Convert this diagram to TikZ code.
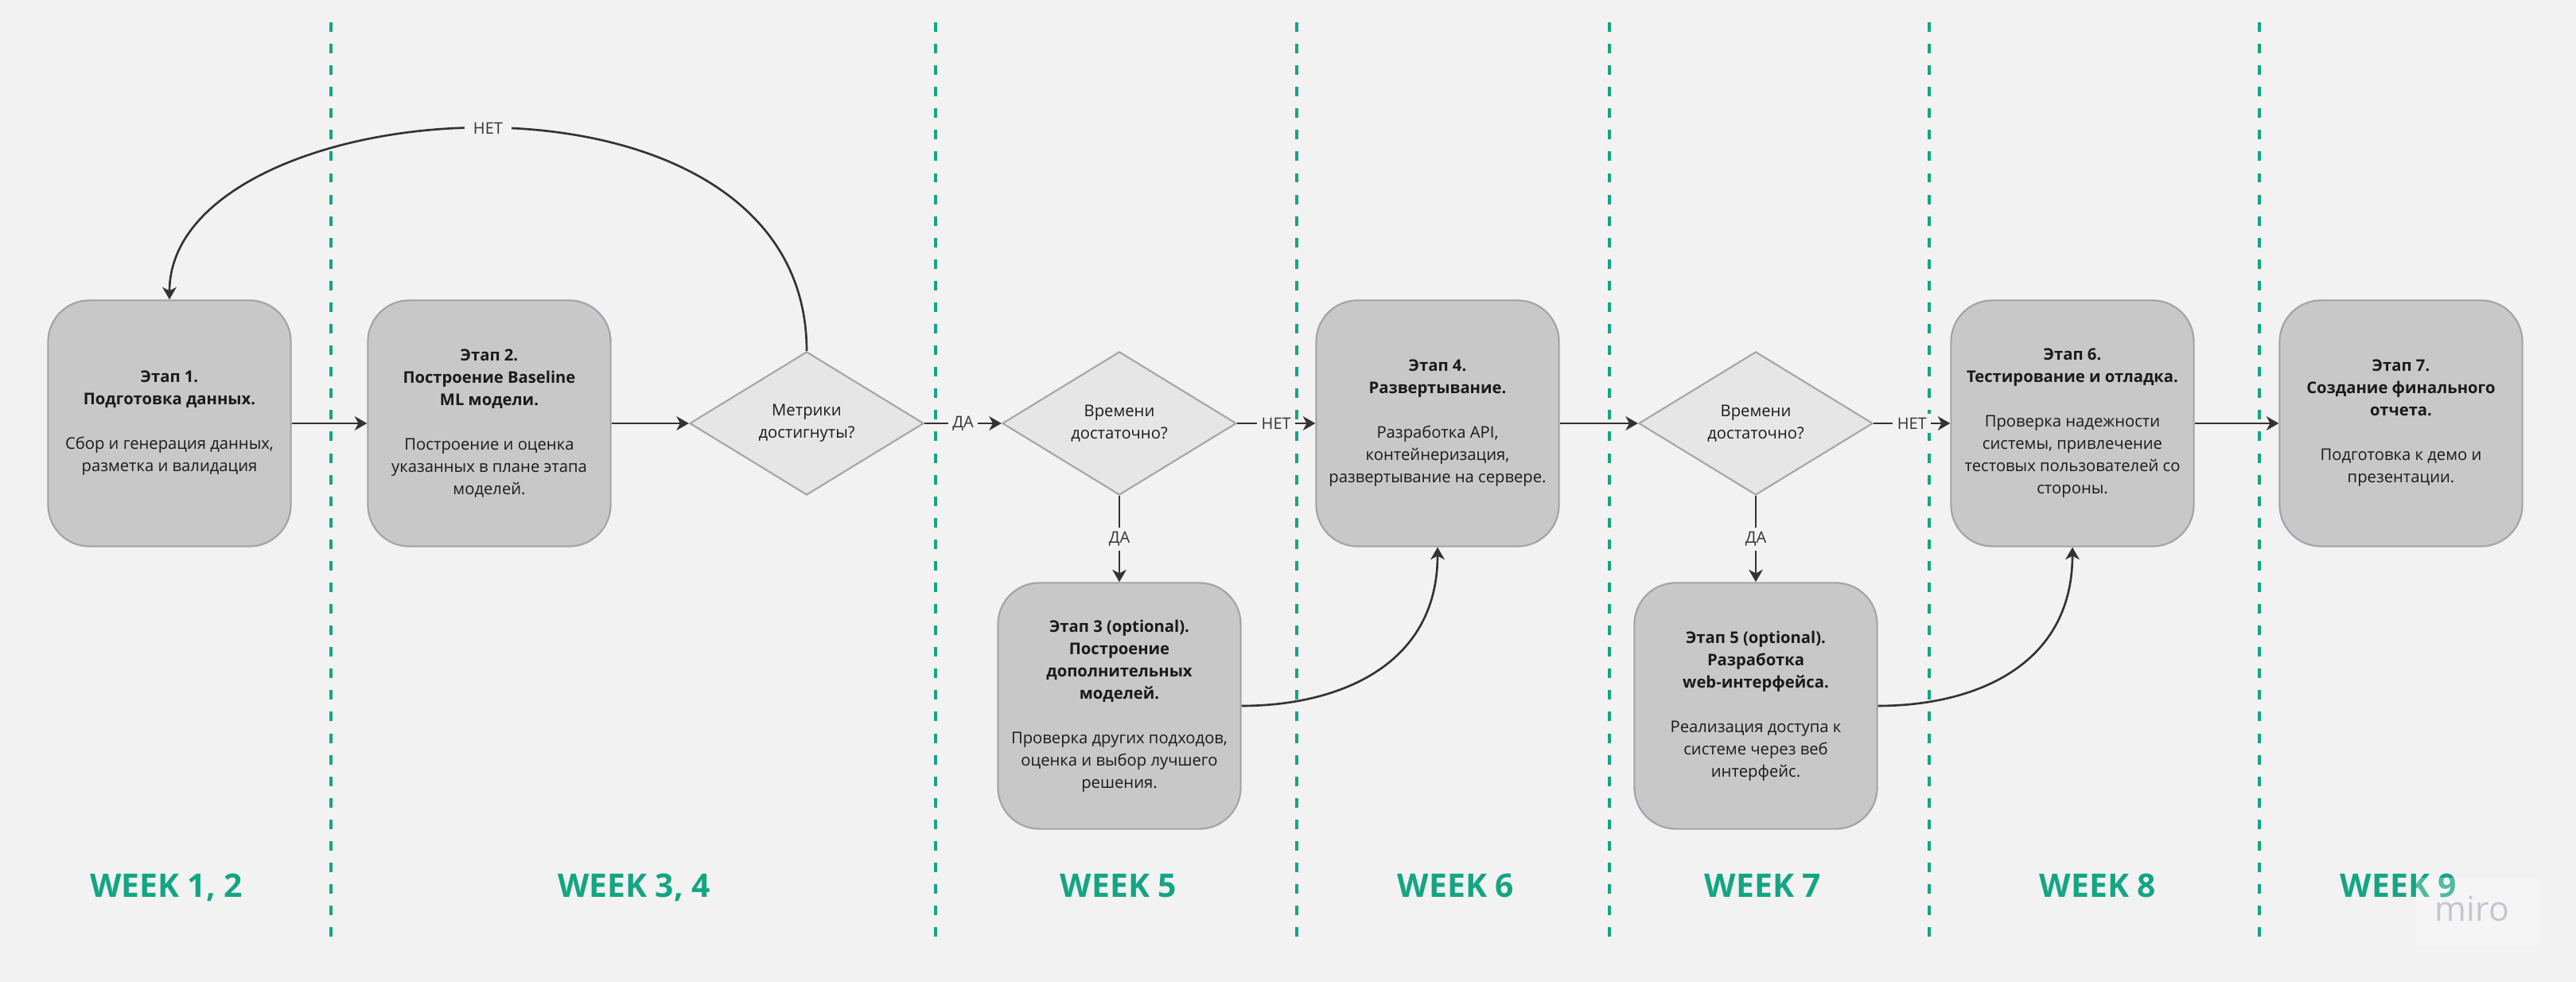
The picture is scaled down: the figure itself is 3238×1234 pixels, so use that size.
\documentclass[tikz,border=0pt]{standalone}
\usepackage{fontspec}
\setmainfont{Open Sans}
\usetikzlibrary{arrows.meta,shapes.geometric}
\definecolor{bg}{HTML}{F2F2F2}
\definecolor{boxfill}{HTML}{C8C8C8}
\definecolor{boxline}{HTML}{A2A2AA}
\definecolor{dfill}{HTML}{E6E6E6}
\definecolor{dline}{HTML}{A6A6A6}
\definecolor{arrowc}{HTML}{333333}
\definecolor{weekc}{HTML}{14A583}
\definecolor{txt}{HTML}{1A1A1A}
\definecolor{mirog}{HTML}{C5C5CF}
\begin{document}
\begin{tikzpicture}[x=0.01cm,y=-0.01cm,
  stagebox/.style={draw=boxline, line width=0.6pt, fill=boxfill, rounded corners=0.52cm,
    minimum width=3.05cm, minimum height=3.09cm, align=center, inner sep=0pt, text=txt,
    font=\fontsize{5.75}{7.97}\selectfont},
  decision/.style={diamond, draw=dline, line width=0.6pt, fill=dfill, minimum width=2.94cm,
    minimum height=1.80cm, inner sep=0pt, align=center, text=txt,
    font=\fontsize{5.75}{7.97}\selectfont},
  flow/.style={draw=arrowc, line width=0.75pt, -{Stealth[length=4.4pt,width=5pt,inset=1.3pt]}},
  lbl/.style={fill=bg, inner sep=1.5pt, text=arrowc, font=\fontsize{5.7}{6.5}\selectfont},
  weeklbl/.style={anchor=base, text=weekc, font=\fontsize{11.6}{14}\selectfont\bfseries},
  sep/.style={draw=weekc, line width=1pt, dash pattern=on 3.4pt off 4.3pt}
]
\useasboundingbox (0,0) rectangle (3238,1234);
\fill[bg] (0,0) rectangle (3238,1234);

% week separators
\foreach \sx in {416,1176,1630,2023,2425,2840}
  \draw[sep] (\sx,28) -- (\sx,1177);

% stages
\node[stagebox] (b1) at (213,532) {\textbf{Этап 1.}\\\textbf{Подготовка данных.}\\[7.97pt]Сбор и генерация данных,\\разметка и валидация};
\node[stagebox] (b2) at (615,532) {\textbf{Этап 2.}\\\textbf{Построение Baseline}\\\textbf{ML модели.}\\[7.97pt]Построение и оценка\\указанных в плане этапа\\моделей.};
\node[decision] (d1) at (1014,532) {Метрики\\достигнуты?};
\node[decision] (d2) at (1407,532) {Времени\\достаточно?};
\node[stagebox] (b3) at (1407,887) {\textbf{Этап 3 (optional).}\\\textbf{Построение}\\\textbf{дополнительных}\\\textbf{моделей.}\\[7.97pt]Проверка других подходов,\\оценка и выбор лучшего\\решения.};
\node[stagebox] (b4) at (1807,532) {\textbf{Этап 4.}\\\textbf{Развертывание.}\\[7.97pt]Разработка API,\\контейнеризация,\\развертывание на сервере.};
\node[decision] (d3) at (2207,532) {Времени\\достаточно?};
\node[stagebox] (b5) at (2207,887) {\textbf{Этап 5 (optional).}\\\textbf{Разработка}\\\textbf{web-интерфейса.}\\[7.97pt]Реализация доступа к\\системе через веб\\интерфейс.};
\node[stagebox] (b6) at (2605,532) {\textbf{Этап 6.}\\\textbf{Тестирование и отладка.}\\[7.97pt]Проверка надежности\\системы, привлечение\\тестовых пользователей со\\стороны.};
\node[stagebox] (b7) at (3018,532) {\textbf{Этап 7.}\\\textbf{Создание финального}\\\textbf{отчета.}\\[7.97pt]Подготовка к демо и\\презентации.};

% connectors
\draw[flow] (b1.east) -- (b2.west);
\draw[flow] (b2.east) -- (d1.west);
\draw[flow] (d1.east) -- node[lbl] (l1) {ДА} (d2.west);
\draw[flow] (d2.east) -- node[lbl] (l2) {НЕТ} (b4.west);
\draw[flow] (d2.south) -- node[lbl] (l3) {ДА} (b3.north);
\draw[flow] (b3.east) .. controls +(120,0) and +(0,150) .. (b4.south);
\draw[flow] (b4.east) -- (d3.west);
\draw[flow] (d3.east) -- node[lbl] (l4) {НЕТ} (b6.west);
\draw[flow] (d3.south) -- node[lbl] (l5) {ДА} (b5.north);
\draw[flow] (b5.east) .. controls +(120,0) and +(0,150) .. (b6.south);
\draw[flow] (b6.east) -- (b7.west);
\draw[flow] (d1.north) .. controls +(0,-393) and +(0,-266) .. node[pos=0.5, lbl, inner sep=3pt] (l6) {НЕТ} (b1.north);

% week labels
\node[weeklbl] (w1) at (209,1127) {WEEK 1, 2};
\node[weeklbl] (w2) at (797,1127) {WEEK 3, 4};
\node[weeklbl] (w3) at (1406,1127) {WEEK 5};
\node[weeklbl] (w4) at (1830,1127) {WEEK 6};
\node[weeklbl] (w5) at (2216,1127) {WEEK 7};
\node[weeklbl] (w6) at (2637,1127) {WEEK 8};
\node[weeklbl] (w7) at (3015,1127) {WEEK 9};

% watermark
\fill[white, fill opacity=0.25] (3037,1103) rectangle (3190,1188);
\node[anchor=base west, text=mirog, inner sep=0pt, font=\fontsize{12.2}{14}\selectfont] (miro) at (3060,1158) {miro};
\end{tikzpicture}
\end{document}
